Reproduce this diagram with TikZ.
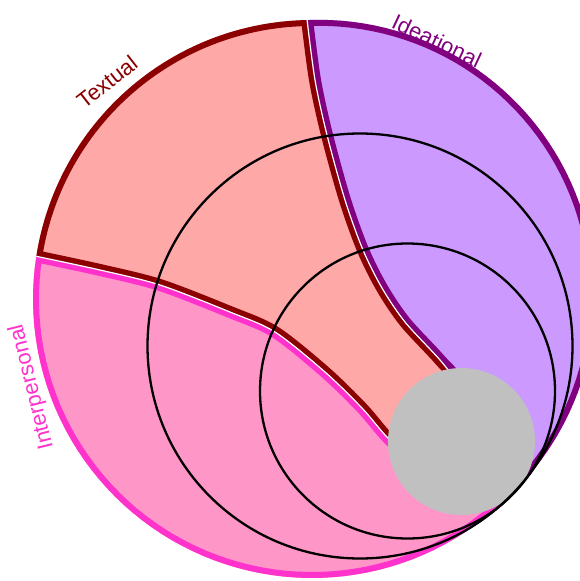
\documentclass[tikz,border=0pt]{standalone}
\usepackage{fontspec}
\setsansfont{Liberation Sans}
\usetikzlibrary{positioning}
\definecolor{ctexf}{HTML}{FFA8A8}
\definecolor{ctexb}{HTML}{8B0000}
\definecolor{cidef}{HTML}{CC99FF}
\definecolor{cideb}{HTML}{800080}
\definecolor{cintf}{HTML}{FF96C8}
\definecolor{cintb}{HTML}{FF33CC}
\definecolor{chub}{HTML}{C0C0C0}

% region outlines, image coordinates (rim: centre 312,299, radius 279)
\def\textualpath{(36.3,256.3) -- plot[domain=-171.2:-91, samples=60] ({312+279*cos(\x)}, {299+279*sin(\x)})
  -- plot[smooth] coordinates {(307.1,20) (315,80) (327,135) (345,200) (363,250) (382,288) (405,322) (440,360) (468,395) (472,455)}
  -- plot[smooth] coordinates {(472,455) (430,468) (392,442) (362,408) (325,372) (275,332) (230,312) (160,285) (100,270) (36.3,256.3)} -- cycle}
% the ideational rim bulges a little on the right
\def\ideationalpath{(307.1,20) -- plot[domain=-91:44.4, samples=60] ({312+(279+5*sin((\x+91)*1.3294))*cos(\x)}, {299+(279+5*sin((\x+91)*1.3294))*sin(\x)})
  -- (472,455)
  -- plot[smooth] coordinates {(472,455) (468,395) (440,360) (405,322) (382,288) (363,250) (345,200) (327,135) (315,80) (307.1,20)} -- cycle}
\def\interpath{(36.3,256.3)
  -- plot[smooth] coordinates {(36.3,256.3) (100,270) (160,285) (230,312) (275,332) (325,372) (362,408) (392,442) (430,468) (472,455)}
  -- (511.3,494.2) -- plot[domain=44.4:188.8, samples=60] ({312+279*cos(\x)}, {299+279*sin(\x)}) -- cycle}

\begin{document}
\begin{tikzpicture}[
  x=1pt, y=-1pt,
  rim/.style={line width=12pt},
  ring/.style={circle, draw=black, line width=2.3pt, inner sep=0pt},
  hub/.style={circle, fill=chub, inner sep=0pt},
  lbl/.style={font=\fontsize{22}{26}\selectfont\sffamily, inner sep=0pt},
  gap/.style={draw=white, line width=1.2pt},
]
\useasboundingbox (0,0) rectangle (580,581);

% ---- metafunction regions ----
\begin{scope}
  \clip \textualpath;
  \fill[ctexf] \textualpath;
  \draw[rim, ctexb] \textualpath;
\end{scope}
\begin{scope}
  \clip \ideationalpath;
  \fill[cidef] \ideationalpath;
  \draw[rim, cideb] \ideationalpath;
\end{scope}
\begin{scope}
  \clip \interpath;
  \fill[cintf] \interpath;
  \draw[rim, cintb] \interpath;
\end{scope}
\draw[gap] plot[smooth] coordinates {(307.1,20) (315,80) (327,135) (345,200) (363,250) (382,288) (405,322) (440,360) (468,395)};
\draw[gap] plot[smooth] coordinates {(36.3,256.3) (100,270) (160,285) (230,312) (275,332) (325,372) (362,408) (392,442) (430,468)};

% ---- nested circles ----
\node[hub, minimum size=147pt] (core) at (461.5,441.5) {};
\node[ring, minimum size=425pt] (outerring) at (360,346) {};
\node[ring, minimum size=295pt] (innerring) at (407.5,391) {};

% ---- labels ----
\node[lbl, text=ctexb, rotate=38] (textual) at (107,82) {Textual};
\node[lbl, text=cideb, rotate=-25] (ideational) at (437,41) {Ideational};
\node[lbl, text=cintb, rotate=104] (interpersonal) at (32,387) {Interpersonal};
\end{tikzpicture}
\end{document}
